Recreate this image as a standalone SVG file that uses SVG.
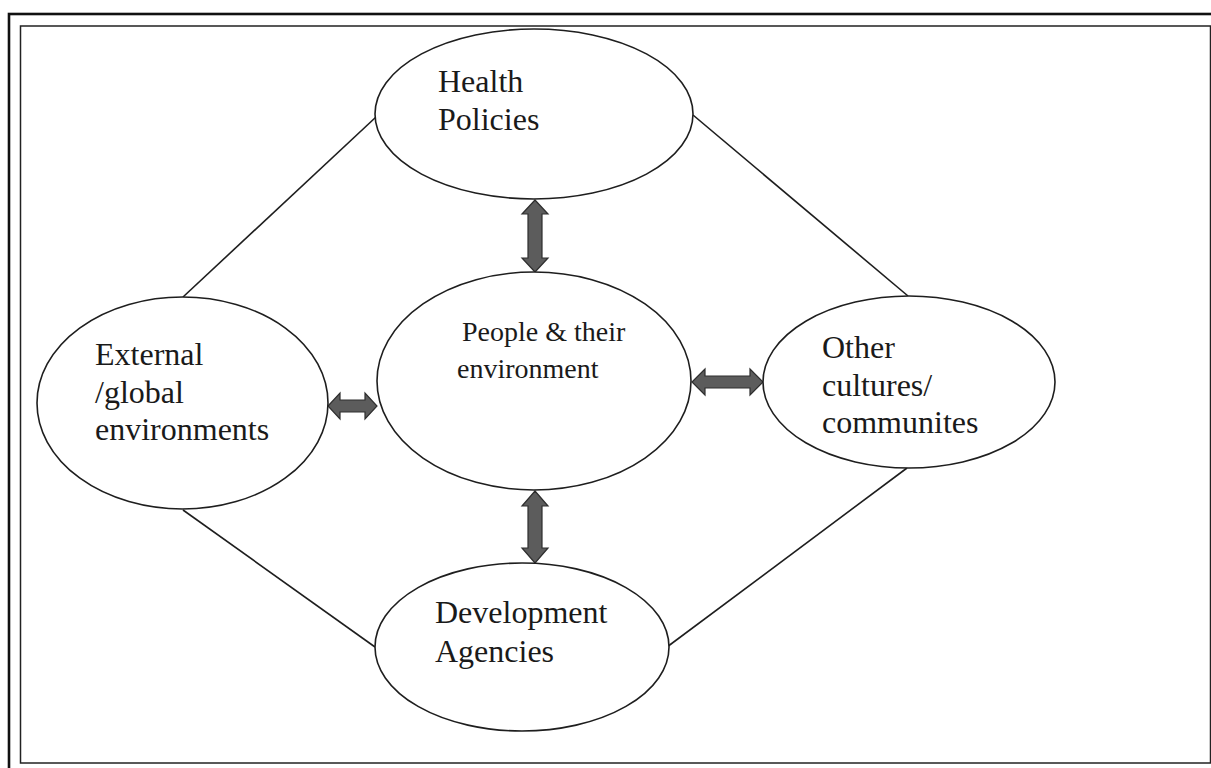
<svg xmlns="http://www.w3.org/2000/svg" width="1211" height="768" viewBox="0 0 1211 768">
  <style>
    .node { fill: #ffffff; stroke: #1e1e1e; stroke-width: 1.6; }
    .label { font-family: "Liberation Serif", "Times New Roman", serif; font-size: 32px; fill: #1a1a1a; }
    .small { font-size: 28px; }
    .link { stroke: #1e1e1e; stroke-width: 1.6; fill: none; }
    .dbl { fill: #5c5c5c; stroke: #2e2e2e; stroke-width: 1.2; stroke-linejoin: miter; }
  </style>

  <rect x="0" y="0" width="1211" height="768" fill="#ffffff"/>

  <!-- double frame -->
  <g id="frame" fill="none">
    <rect x="9" y="14" width="1220" height="770" stroke="#111" stroke-width="2.6"/>
    <rect x="20.5" y="26" width="1190" height="737" stroke="#222" stroke-width="1.5"/>
  </g>

  <!-- outer ring of connectors and the two-way block arrows -->
  <g id="connectors">
    <line class="link" x1="183" y1="297" x2="376" y2="117"/>
    <line class="link" x1="693" y1="115" x2="908" y2="296"/>
    <line class="link" x1="907" y1="468" x2="667" y2="647"/>
    <line class="link" x1="183" y1="510" x2="375" y2="647"/>

    <!-- Health Policies <-> People -->
    <polygon class="dbl" points="535,200 548,214 542,214 542,258 548,258 535,272 522,258 528,258 528,214 522,214"/>
    <!-- People <-> Development Agencies -->
    <polygon class="dbl" points="535,491 548,506 542,506 542,548 548,548 535,563 522,548 528,548 528,506 522,506"/>
    <!-- External <-> People -->
    <polygon class="dbl" points="328,406 340,393 340,400 365,400 365,393 377,406 365,419 365,412 340,412 340,419"/>
    <!-- People <-> Other cultures -->
    <polygon class="dbl" points="692,382 705,369 705,376 750,376 750,369 763,382 750,395 750,388 705,388 705,395"/>
  </g>

  <g id="health-policies">
    <ellipse class="node" cx="534" cy="114" rx="159" ry="85"/>
    <text class="label" x="438" y="92">Health</text>
    <text class="label" x="438" y="130">Policies</text>
  </g>

  <g id="people-environment">
    <ellipse class="node" cx="534" cy="381" rx="157" ry="109"/>
    <text class="label small" x="462" y="341">People &amp; their</text>
    <text class="label small" x="457" y="378">environment</text>
  </g>

  <g id="external-global">
    <ellipse class="node" cx="182.5" cy="403" rx="145.5" ry="106"/>
    <text class="label" x="95" y="365">External</text>
    <text class="label" x="95" y="403">/global</text>
    <text class="label" x="95" y="440">environments</text>
  </g>

  <g id="other-cultures">
    <ellipse class="node" cx="909" cy="382" rx="146" ry="86"/>
    <text class="label" x="822" y="358">Other</text>
    <text class="label" x="822" y="396">cultures/</text>
    <text class="label" x="822" y="433">communites</text>
  </g>

  <g id="development-agencies">
    <ellipse class="node" cx="522" cy="647" rx="147" ry="84"/>
    <text class="label" x="435" y="623">Development</text>
    <text class="label" x="435" y="662">Agencies</text>
  </g>
</svg>
